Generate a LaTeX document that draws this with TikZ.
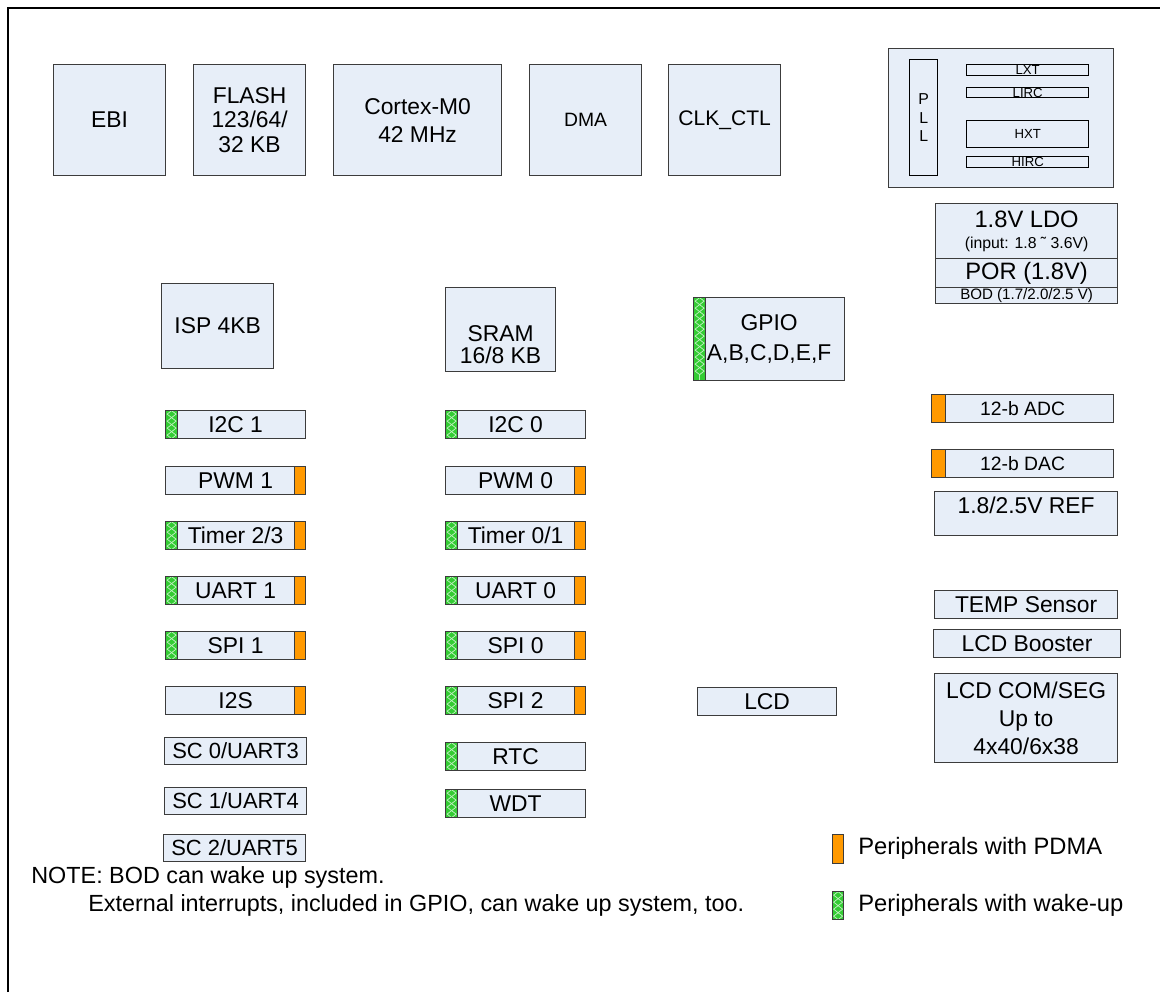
\documentclass[tikz,border=0pt]{standalone}
\usepackage{fontspec}
\setmainfont{Liberation Sans}
\usetikzlibrary{positioning, decorations.pathmorphing}
\definecolor{boxfill}{HTML}{E7EEF8}
\definecolor{boxline}{HTML}{3C3C3C}
\definecolor{pdmaorange}{HTML}{FF9900}
\definecolor{wakegreen}{HTML}{33CC33}
\definecolor{zigline}{HTML}{C4F0C4}

\begin{document}
\begin{tikzpicture}[x=0.02cm, y=-0.02cm,
    box/.style={rectangle, draw=boxline, fill=boxfill, line width=0.7pt,
                inner sep=0pt, anchor=north west, align=center,
                font=\fontsize{13}{15}\selectfont},
    boxsize/.style 2 args={minimum width=#1, minimum height=#2},
    periph/.style={box, boxsize={2.8cm}{0.56cm}},
    clkpart/.style={rectangle, draw=black, line width=0.8pt, inner sep=0pt,
                    anchor=north west, font=\fontsize{7.5}{9}\selectfont},
    txt/.style={inner sep=0pt, align=center, font=\fontsize{13}{15}\selectfont},
    pdma/.style={rectangle, draw=boxline, fill=pdmaorange, line width=0.7pt,
                 inner sep=0pt, minimum width=0.22cm, minimum height=0.56cm, anchor=east},
    zigzag line/.style={draw=zigline, line width=0.4pt, decorate,
                        decoration={zigzag, amplitude=0.09cm, segment length=0.28cm}},
    wake/.style={rectangle, draw=boxline, fill=wakegreen, line width=0.7pt,
                 inner sep=0pt, minimum width=0.24cm, minimum height=0.56cm, anchor=west,
                 path picture={
                   \draw[zigzag line] (path picture bounding box.north) -- (path picture bounding box.south);
                   \draw[zigzag line, decoration={mirror}] (path picture bounding box.north) -- (path picture bounding box.south);}}
  ]
    \useasboundingbox (0,0) rectangle (1160,992);
    % Frame
    \draw[line width=1.4pt] (8,992) -- (8,8) -- (1160,8);

    % Top row
    \node[box, boxsize={2.24cm}{2.22cm}] (ebi) at (53,64) {EBI};
    \node[box, boxsize={2.24cm}{2.22cm}, font=\fontsize{13}{14}\selectfont] (flash) at (193,64) {FLASH\\123/64/\\32 KB};
    \node[box, boxsize={3.36cm}{2.22cm}, font=\fontsize{13}{16}\selectfont] (cpu) at (333,64) {Cortex-M0\\42 MHz};
    \node[box, boxsize={2.24cm}{2.22cm}, font=\fontsize{11}{13}\selectfont] (dma) at (529,64) {DMA};
    \node[box, boxsize={2.24cm}{2.22cm}, font=\fontsize{12}{15}\selectfont] (clkctl) at (668,64) {CLK\_CTL};

    % Clock sources
    \node[box, boxsize={4.5cm}{2.78cm}] (clkbox) at (888,48) {};
    \node[clkpart, boxsize={0.56cm}{2.32cm}, align=center, font=\fontsize{9}{10.5}\selectfont] (pll) at (909,59) {P\\L\\L};
    \node[clkpart, boxsize={2.44cm}{0.22cm}] (lxt) at (966,64) {LXT};
    \node[clkpart, boxsize={2.44cm}{0.2cm}] (lirc) at (966,87) {LIRC};
    \node[clkpart, boxsize={2.44cm}{0.54cm}] (hxt) at (966,120) {HXT};
    \node[clkpart, boxsize={2.44cm}{0.22cm}] (hirc) at (966,156) {HIRC};

    % Power
    \node[box, boxsize={3.64cm}{1.1cm}] (ldo) at (935,203) {};
    \node[txt, font=\fontsize{13.5}{16}\selectfont] (ldotext) at ([yshift=0.24cm]ldo.center) {1.8V LDO};
    \node[txt, font=\fontsize{9}{11}\selectfont] (ldoinput) at ([yshift=-0.26cm]ldo.center) {(input: 1.8 ˜ 3.6V)};
    \node[box, boxsize={3.64cm}{0.58cm}, font=\fontsize{13.5}{16}\selectfont] (por) at (935,258) {POR (1.8V)};
    \node[box, boxsize={3.64cm}{0.32cm}, font=\fontsize{8.6}{10}\selectfont] (bod) at (935,287) {BOD (1.7/2.0/2.5 V)};

    % Memories and GPIO
    \node[box, boxsize={2.24cm}{1.7cm}] (isp) at (161,283) {ISP 4KB};
    \node[box, boxsize={2.2cm}{1.68cm}] (sram) at (445,287) {};
    \node[txt, font=\fontsize{13}{13}\selectfont] (sramtext) at ([yshift=-0.3cm]sram.center) {SRAM\\16/8 KB};
    \node[box, boxsize={3.02cm}{1.66cm}, font=\fontsize{13}{17}\selectfont] (gpio) at (693,297) {GPIO\\A,B,C,D,E,F};
    \node[wake, minimum height=1.66cm] (gpio-w) at (gpio.west) {};

    % Peripherals, left column
    \node[periph] (i2c1) at (165,410) {I2C 1};
    \node[periph] (pwm1) at (165,466) {PWM 1};
    \node[periph] (tmr23) at (165,521) {Timer 2/3};
    \node[periph] (uart1) at (165,576) {UART 1};
    \node[periph] (spi1) at (165,631) {SPI 1};
    \node[periph] (i2s) at (165,686) {I2S};
    \node[box, boxsize={2.84cm}{0.54cm}, font=\fontsize{12.5}{15}\selectfont] (sc0) at (164,737) {SC 0/UART3};
    \node[box, boxsize={2.84cm}{0.54cm}, font=\fontsize{12.5}{15}\selectfont] (sc1) at (164,787) {SC 1/UART4};
    \node[box, boxsize={2.84cm}{0.54cm}, font=\fontsize{12.5}{15}\selectfont] (sc2) at (163,834) {SC 2/UART5};

    % Peripherals, middle column
    \node[periph] (i2c0) at (445,410) {I2C 0};
    \node[periph] (pwm0) at (445,466) {PWM 0};
    \node[periph] (tmr01) at (445,521) {Timer 0/1};
    \node[periph] (uart0) at (445,576) {UART 0};
    \node[periph] (spi0) at (445,631) {SPI 0};
    \node[periph] (spi2) at (445,686) {SPI 2};
    \node[periph] (rtc) at (445,742) {RTC};
    \node[periph] (wdt) at (445,789) {WDT};
    \node[periph, minimum width=2.78cm] (lcd) at (697,687) {LCD};

    % Wake-up and PDMA marks
    \node[wake] (i2c1-w) at (i2c1.west) {};
    \node[wake] (tmr23-w) at (tmr23.west) {};
    \node[wake] (uart1-w) at (uart1.west) {};
    \node[wake] (spi1-w) at (spi1.west) {};
    \node[pdma] (pwm1-d) at (pwm1.east) {};
    \node[pdma] (tmr23-d) at (tmr23.east) {};
    \node[pdma] (uart1-d) at (uart1.east) {};
    \node[pdma] (spi1-d) at (spi1.east) {};
    \node[pdma] (i2s-d) at (i2s.east) {};
    \node[wake] (i2c0-w) at (i2c0.west) {};
    \node[wake] (tmr01-w) at (tmr01.west) {};
    \node[wake] (uart0-w) at (uart0.west) {};
    \node[wake] (spi0-w) at (spi0.west) {};
    \node[wake] (spi2-w) at (spi2.west) {};
    \node[wake] (rtc-w) at (rtc.west) {};
    \node[wake] (wdt-w) at (wdt.west) {};
    \node[pdma] (pwm0-d) at (pwm0.east) {};
    \node[pdma] (tmr01-d) at (tmr01.east) {};
    \node[pdma] (uart0-d) at (uart0.east) {};
    \node[pdma] (spi0-d) at (spi0.east) {};
    \node[pdma] (spi2-d) at (spi2.east) {};

    % Analog, right column
    \node[box, boxsize={3.64cm}{0.56cm}, font=\fontsize{11}{13}\selectfont] (adc) at (931,394) {12-b ADC};
    \node[box, boxsize={3.64cm}{0.56cm}, font=\fontsize{11}{13}\selectfont] (dac) at (931,449) {12-b DAC};
    \node[pdma, anchor=west, minimum width=0.28cm] (adc-d) at (adc.west) {};
    \node[pdma, anchor=west, minimum width=0.28cm] (dac-d) at (dac.west) {};
    \node[box, boxsize={3.66cm}{0.88cm}] (vref) at (934,491) {};
    \node[txt] (vreftext) at ([yshift=0.16cm]vref.center) {1.8/2.5V REF};
    \node[box, boxsize={3.66cm}{0.56cm}] (temp) at (934,590) {TEMP Sensor};
    \node[box, boxsize={3.74cm}{0.56cm}] (booster) at (933,629) {LCD Booster};
    \node[box, boxsize={3.66cm}{1.78cm}, font=\fontsize{13}{16}\selectfont] (lcdcom) at (934,673) {LCD COM/SEG\\Up to\\4x40/6x38};

    % Legend
    \node[pdma, anchor=north west, minimum height=0.58cm] (leg-d) at (832,834) {};
    \node[txt, anchor=west, font=\fontsize{13.5}{15}\selectfont] (leg-dtext) at (858,848) {Peripherals with PDMA};
    \node[wake, anchor=north west, minimum width=0.22cm] (leg-w) at (832,891) {};
    \node[txt, anchor=west, font=\fontsize{13.5}{15}\selectfont] (leg-wtext) at (858,905) {Peripherals with wake-up};

    % Note
    \node[txt, anchor=west, font=\fontsize{13.3}{15}\selectfont] (note) at (31,877) {NOTE: BOD can wake up system.};
    \node[txt, anchor=west, font=\fontsize{13.3}{15}\selectfont] (note2) at (88,905) {External interrupts, included in GPIO, can wake up system, too.};
  \end{tikzpicture}
\end{document}
